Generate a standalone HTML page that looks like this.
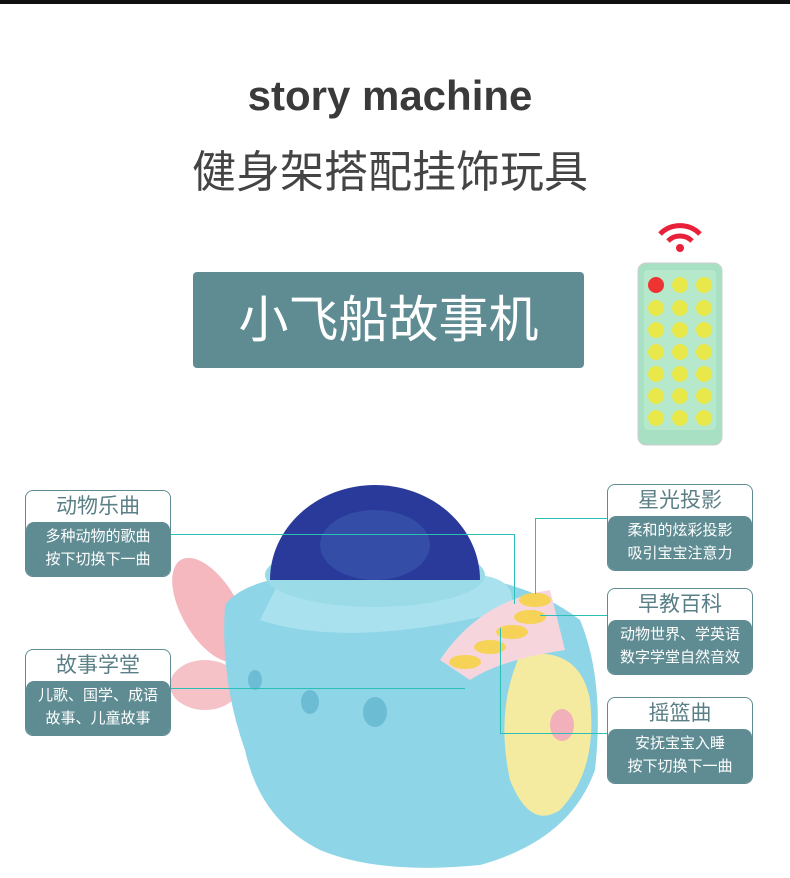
<!DOCTYPE html>
<html><head><meta charset="utf-8"><style>
body{margin:0;width:790px;height:878px;background:#fff;position:relative;overflow:hidden;font-family:"Liberation Sans","Noto Sans CJK SC",sans-serif}
.a{position:absolute}
.card{position:absolute;width:144px;border:1px solid #5f8c93;border-radius:8px;background:#fff;overflow:hidden}
.card .t{height:31px;line-height:31px;text-align:center;font-size:21px;color:#5a7f86}
.card .b{background:#5f8c93;color:#fff;font-size:15px;line-height:23px;text-align:center;padding:3px 0 5px;border-radius:8px 8px 0 0;white-space:nowrap}
.ln{position:absolute;background:#2bbfb5}
</style></head><body>
<div class="a" style="left:0;top:0;width:790px;height:4px;background:#111"></div>
<div class="a" style="left:0;top:72px;width:780px;text-align:center;font-size:42px;font-weight:bold;color:#3a3a3a">story machine</div>
<div class="a" style="left:0;top:136px;width:780px;text-align:center;font-size:44px;color:#444">健身架搭配挂饰玩具</div>
<div class="a" style="left:193px;top:272px;width:391px;height:96px;background:#5f8c93;border-radius:4px;color:#fff;font-size:50px;line-height:96px;text-align:center">小飞船故事机</div>
<svg class="a" style="left:630px;top:212px" width="100" height="240">
<path d="M30 22 A28 28 0 0 1 70 22" stroke="#e8203a" stroke-width="5" fill="none"/>
<path d="M38 29 A17 17 0 0 1 62 29" stroke="#e8203a" stroke-width="5" fill="none"/>
<circle cx="50" cy="36" r="4" fill="#e8203a"/>
<rect x="8" y="51" width="84" height="182" rx="8" fill="#a8e0c4" stroke="#ccc"/>
<rect x="14" y="58" width="72" height="160" rx="4" fill="#b6e8cc"/>
<circle cx="26" cy="73" r="8" fill="#e33"/>
<g fill="#e8e84a">
<circle cx="50" cy="73" r="8"/><circle cx="74" cy="73" r="8"/>
<circle cx="26" cy="96" r="8"/><circle cx="50" cy="96" r="8"/><circle cx="74" cy="96" r="8"/>
<circle cx="26" cy="118" r="8"/><circle cx="50" cy="118" r="8"/><circle cx="74" cy="118" r="8"/>
<circle cx="26" cy="140" r="8"/><circle cx="50" cy="140" r="8"/><circle cx="74" cy="140" r="8"/>
<circle cx="26" cy="162" r="8"/><circle cx="50" cy="162" r="8"/><circle cx="74" cy="162" r="8"/>
<circle cx="26" cy="184" r="8"/><circle cx="50" cy="184" r="8"/><circle cx="74" cy="184" r="8"/>
<circle cx="26" cy="206" r="8"/><circle cx="50" cy="206" r="8"/><circle cx="74" cy="206" r="8"/>
</g></svg>
<svg class="a" style="left:150px;top:480px" width="460" height="398">
<ellipse cx="60" cy="130" rx="28" ry="58" fill="#f5b8bf" transform="rotate(-30 60 130)"/>
<ellipse cx="55" cy="205" rx="35" ry="25" fill="#f5c2c8"/>
<path d="M75 125 Q100 90 220 92 Q360 85 430 140 Q455 200 445 290 Q420 360 330 385 Q230 395 170 370 Q110 340 95 270 Q70 200 75 125Z" fill="#8fd5e8"/>
<path d="M370 175 Q430 165 440 220 Q448 290 410 330 Q380 350 360 300 Q345 230 370 175Z" fill="#f5eba0"/>
<path d="M110 140 Q200 170 360 130 Q370 100 330 95 Q250 80 130 100Z" fill="#a9e2ee"/>
<ellipse cx="225" cy="95" rx="110" ry="32" fill="#9bdbe8"/>
<path d="M120 100 A105 95 0 0 1 330 100 Z" fill="#2a3a9a"/>
<ellipse cx="225" cy="65" rx="55" ry="35" fill="#3c5ab0" opacity=".6"/>
<path d="M290 180 Q330 120 400 110 L415 170 Q350 180 320 200Z" fill="#f6d6dc"/>
<g fill="#f6d256"><ellipse cx="385" cy="120" rx="16" ry="7"/><ellipse cx="380" cy="137" rx="16" ry="7"/><ellipse cx="362" cy="152" rx="16" ry="7"/><ellipse cx="340" cy="167" rx="16" ry="7"/><ellipse cx="315" cy="182" rx="16" ry="7"/></g>
<g fill="#6cbcd4"><ellipse cx="105" cy="200" rx="7" ry="10"/><ellipse cx="160" cy="222" rx="9" ry="12"/><ellipse cx="225" cy="232" rx="12" ry="15"/></g>
<ellipse cx="412" cy="245" rx="12" ry="16" fill="#f2b0ba"/>
</svg>
<div class="ln" style="left:171px;top:534px;width:343px;height:1px"></div>
<div class="ln" style="left:514px;top:534px;width:1px;height:70px"></div>
<div class="ln" style="left:171px;top:688px;width:294px;height:1px"></div>
<div class="ln" style="left:535px;top:518px;width:72px;height:1px"></div>
<div class="ln" style="left:535px;top:518px;width:1px;height:76px"></div>
<div class="ln" style="left:540px;top:615px;width:67px;height:1px"></div>
<div class="ln" style="left:500px;top:733px;width:107px;height:1px"></div>
<div class="ln" style="left:500px;top:628px;width:1px;height:105px"></div>
<div class="card" style="left:25px;top:490px"><div class="t">动物乐曲</div><div class="b">多种动物的歌曲<br>按下切换下一曲</div></div>
<div class="card" style="left:25px;top:649px"><div class="t">故事学堂</div><div class="b">儿歌、国学、成语<br>故事、儿童故事</div></div>
<div class="card" style="left:607px;top:484px"><div class="t">星光投影</div><div class="b">柔和的炫彩投影<br>吸引宝宝注意力</div></div>
<div class="card" style="left:607px;top:588px"><div class="t">早教百科</div><div class="b">动物世界、学英语<br>数字学堂自然音效</div></div>
<div class="card" style="left:607px;top:697px"><div class="t">摇篮曲</div><div class="b">安抚宝宝入睡<br>按下切换下一曲</div></div>
</body></html>
